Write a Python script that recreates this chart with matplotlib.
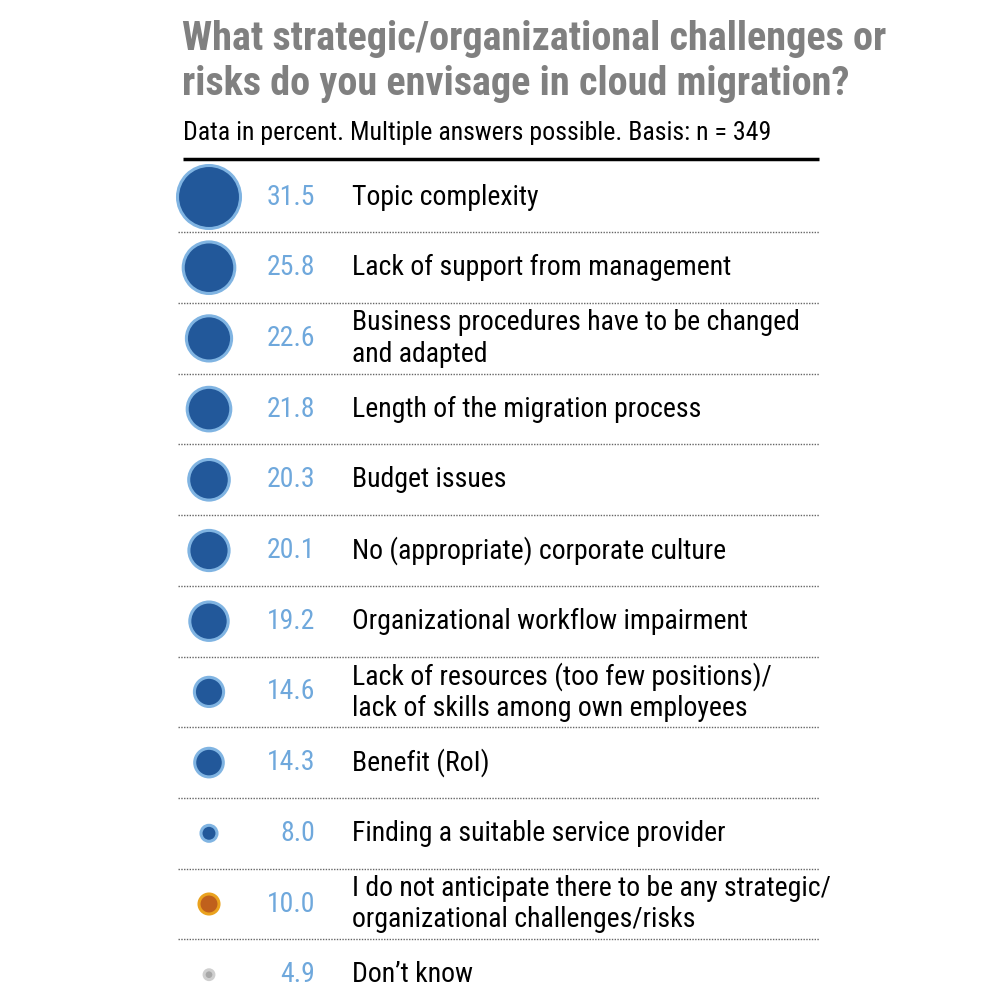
import matplotlib
matplotlib.use("Agg")
import matplotlib.pyplot as plt
import numpy as np

plt.rcParams['font.family'] = ['Roboto Condensed', 'Liberation Sans Narrow', 'DejaVu Sans']
plt.rcParams['font.stretch'] = 'condensed'

# data
labels = [
    "Topic complexity",
    "Lack of support from management",
    "Business procedures have to be changed\nand adapted",
    "Length of the migration process",
    "Budget issues",
    "No (appropriate) corporate culture",
    "Organizational workflow impairment",
    "Lack of resources (too few positions)/\nlack of skills among own employees",
    "Benefit (RoI)",
    "Finding a suitable service provider",
    "I do not anticipate there to be any strategic/\norganizational challenges/risks",
    "Don\u2019t know",
]
values = [31.5, 25.8, 22.6, 21.8, 20.3, 20.1, 19.2, 14.6, 14.3, 8.0, 10.0, 4.9]
kinds = ["main"] * 10 + ["none", "dk"]

face = {"main": "#22589a", "none": "#c0601c", "dk": "#a8a8a8"}
edge = {"main": "#80b4e2", "none": "#eaa21e", "dk": "#cfcfcf"}

fig = plt.figure(figsize=(10, 9.96), dpi=100)
ax = fig.add_axes([0, 0, 1, 1])
ax.set_xlim(0, 1000)
ax.set_ylim(996, 0)
ax.axis('off')

fig.text(0.182, 0.980, "What strategic/organizational challenges or\nrisks do you envisage in cloud migration?",
         ha='left', va='top', fontsize=29, fontweight='bold', color='#808080', linespacing=1.22)
fig.text(0.183, 0.866, "Data in percent. Multiple answers possible. Basis: n = 349",
         ha='left', va='center', fontsize=18.6, color='black')

ax.plot([183, 819], [159, 159], color='black', lw=2.5, solid_capstyle='butt')

y0, step = 197, 70.7
ys = y0 + step * np.arange(len(values))
diam_px = 2.0 * np.array(values)
sizes = (diam_px * 0.72) ** 2
ax.scatter(np.full(len(values), 209), ys, s=sizes,
           c=[face[k] for k in kinds], edgecolors=[edge[k] for k in kinds],
           linewidths=2.2, zorder=3)

for y, v, lab in zip(ys, values, labels):
    ax.text(315, y, f"{v:.1f}", ha='right', va='center', fontsize=20, color='#6fa8dc')
    ax.text(352, y, lab, ha='left', va='center', fontsize=20, color='black', linespacing=1.2)

for y in ys[:-1] + step / 2:
    ax.plot([178, 819], [y, y], color='#666666', lw=1, ls=(0, (1, 1)))

fig.savefig("out.png", dpi=100)
